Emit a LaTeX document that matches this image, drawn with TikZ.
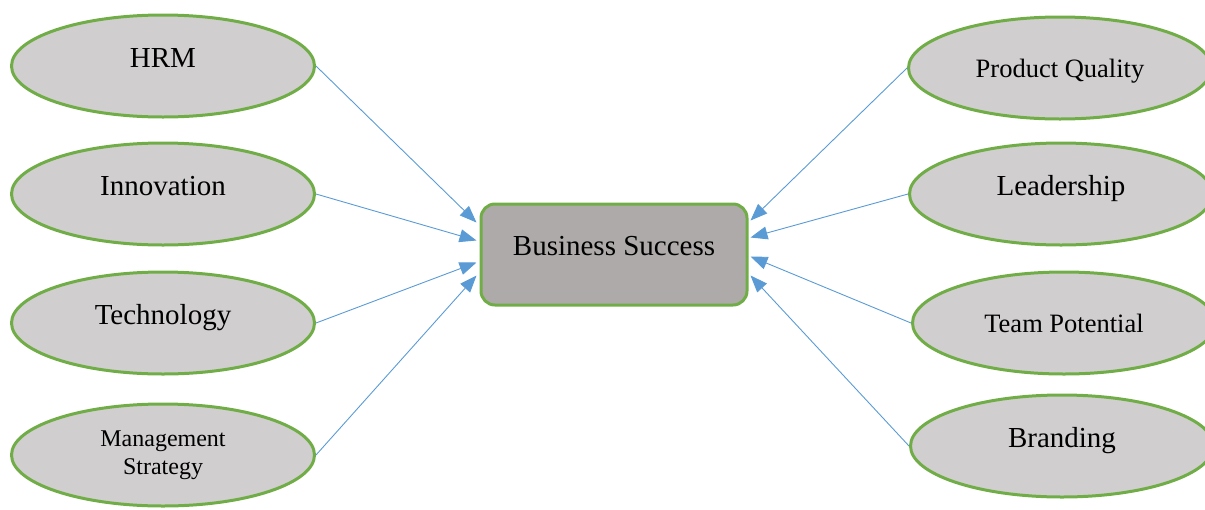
\documentclass[tikz,border=0pt]{standalone}
\usepackage{fontspec}
\setmainfont{Liberation Serif}
\usetikzlibrary{positioning, shapes, arrows.meta}
\definecolor{ovalgray}{HTML}{D0CECE}
\definecolor{boxgray}{HTML}{AEAAAA}
\definecolor{rimgreen}{HTML}{70AD47}
\definecolor{linkblue}{HTML}{5B9BD5}

\begin{document}
\begin{tikzpicture}[
        x = 1pt,
        y = -1pt,
        on grid,
        node distance = 128pt,
        factor/.style = {ellipse, draw = rimgreen, line width = 3pt, fill = ovalgray,
          minimum width = 303pt, minimum height = 102pt, inner sep = 0pt,
          font = \fontsize{29}{33}\selectfont, text height = 20pt, text depth = 17pt},
        small/.style = {font = \fontsize{26.5}{30}\selectfont, text height = 18pt, text depth = 0pt},
        twoline/.style = {font = \fontsize{24}{28}\selectfont, align = center,
          text height = , text depth = },
        goal/.style = {rectangle, rounded corners = 14pt, draw = rimgreen, line width = 3pt,
          fill = boxgray, minimum width = 266pt, minimum height = 101pt,
          font = \fontsize{29}{33}\selectfont, text height = 20pt, text depth = 18pt},
        link/.style = {color = linkblue, line width = 0.9pt,
          -{Triangle[length=17pt, width=13pt]}}]

      \useasboundingbox (0,0) rectangle (1205,509);

      %centre
      \node[goal] (Success) at (614,254.5) {Business Success};

      %left column
      \node[factor] (HRM) at (163,66) {HRM};
      \node[factor] (Innovation) [below = of HRM] {Innovation};
      \node[factor] (Technology) [below = 129pt of Innovation] {Technology};
      \node[factor, twoline] (Strategy) [below = 132pt of Technology] {Management\\Strategy};

      %right column
      \node[factor, small] (Quality) at (1060,68) {Product Quality};
      \node[factor] (Leadership) [below = 126pt of Quality, xshift = 1pt] {Leadership};
      \node[factor, small] (Potential) [below = 129pt of Leadership, xshift = 3pt] {Team Potential};
      \node[factor] (Branding) [below = 123pt of Potential, xshift = -2pt] {Branding};

      \begin{scope}
      %arrows into the box, left side
        \path
        (HRM.east) edge[link] ([yshift=32pt, xshift=-3pt]Success.west)
        (Innovation.east) edge[link] ([yshift=14pt, xshift=-3pt]Success.west)
        (Technology.east) edge[link] ([yshift=-8pt, xshift=-3pt]Success.west)
        (Strategy.east) edge[link] ([yshift=-21pt, xshift=-3pt]Success.west)
        ;
      %arrows into the box, right side
        \path
        (Quality.west) edge[link] ([yshift=34pt, xshift=2pt]Success.east)
        (Leadership.west) edge[link] ([yshift=17pt, xshift=2pt]Success.east)
        (Potential.west) edge[link] ([yshift=-2pt, xshift=2pt]Success.east)
        (Branding.west) edge[link] ([yshift=-21pt, xshift=2pt]Success.east)
        ;
      \end{scope}
    \end{tikzpicture}
\end{document}
